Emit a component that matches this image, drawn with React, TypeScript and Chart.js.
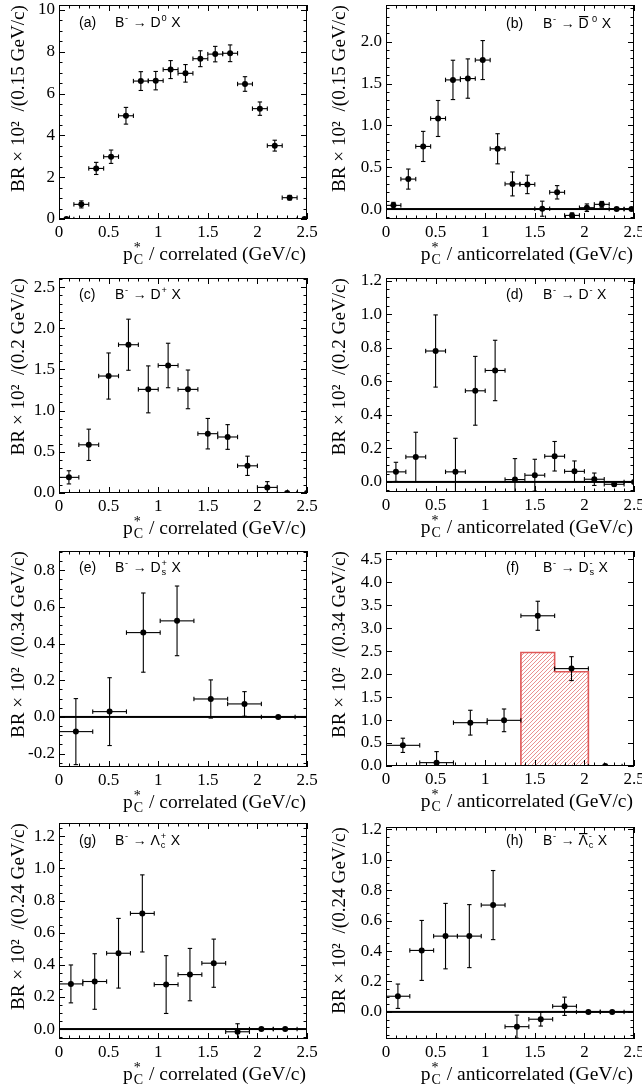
import { useEffect, useRef } from "react";
import { Chart, registerables } from "chart.js";
Chart.register(...registerables);

// ---------------- data ----------------
const xTickLabels = ["0", "0.5", "1", "1.5", "2", "2.5"];

// (a) B- -> D0 X, correlated, 0.15 GeV/c bins
const aX = [0.075, 0.225, 0.375, 0.525, 0.675, 0.825, 0.975, 1.125, 1.275, 1.425, 1.575, 1.725, 1.875, 2.025, 2.175, 2.325, 2.475];
const aY = [0, 0.70, 2.42, 2.98, 4.94, 6.60, 6.62, 7.15, 6.97, 7.67, 7.89, 7.93, 6.46, 5.28, 3.51, 1.02, 0];
const aErr = [0.03, 0.17, 0.29, 0.32, 0.40, 0.45, 0.44, 0.43, 0.42, 0.38, 0.37, 0.40, 0.35, 0.32, 0.26, 0.11, 0];

// (b) B- -> anti-D0 X, anticorrelated
const bX = [0.075, 0.225, 0.375, 0.525, 0.675, 0.825, 0.975, 1.125, 1.275, 1.425, 1.575, 1.725, 1.875, 2.025, 2.175, 2.325, 2.475];
const bY = [0.044, 0.358, 0.748, 1.082, 1.543, 1.559, 1.78, 0.72, 0.30, 0.294, 0.004, 0.20, -0.076, 0.016, 0.056, 0, 0];
const bErr = [0.036, 0.12, 0.18, 0.215, 0.235, 0.235, 0.233, 0.18, 0.143, 0.11, 0.09, 0.08, 0.03, 0.045, 0.035, 0, 0];

// (c) B- -> D+ X, correlated, 0.2 GeV/c bins
const cX = [0.1, 0.3, 0.5, 0.7, 0.9, 1.1, 1.3, 1.5, 1.7, 1.9, 2.1, 2.3, 2.5];
const cY = [0.19, 0.585, 1.42, 1.80, 1.258, 1.548, 1.258, 0.72, 0.68, 0.33, 0.068, 0, 0];
const cErr = [0.08, 0.19, 0.28, 0.31, 0.285, 0.27, 0.235, 0.185, 0.15, 0.117, 0.07, 0, 0];

// (d) B- -> D- X, anticorrelated
const dX = [0.1, 0.3, 0.5, 0.7, 0.9, 1.1, 1.3, 1.5, 1.7, 1.9, 2.1, 2.3, 2.5];
const dY = [0.06, 0.149, 0.78, 0.06, 0.543, 0.664, 0.014, 0.04, 0.153, 0.063, 0.016, -0.014, 0];
const dErr = [0.057, 0.147, 0.215, 0.2, 0.205, 0.18, 0.125, 0.095, 0.088, 0.062, 0.037, 0.01, 0];

// (e) B- -> Ds+ X, correlated, 0.34 GeV/c bins
const eX = [0.17, 0.51, 0.85, 1.19, 1.53, 1.87, 2.21];
const eY = [-0.08, 0.029, 0.46, 0.524, 0.098, 0.071, 0];
const eErr = [0.18, 0.185, 0.216, 0.19, 0.104, 0.067, 0];

// (f) B- -> Ds- X, anticorrelated
const fX = [0.17, 0.51, 0.85, 1.19, 1.53, 1.87, 2.21];
const fY = [0.45, 0.073, 0.943, 0.994, 3.27, 2.12, 0];
const fErr = [0.155, 0.24, 0.27, 0.247, 0.316, 0.26, 0];
const fHistEdges = [0, 0.34, 0.68, 1.02, 1.36, 1.70, 2.04];
const fHistValues = [0, 0, 0, 0, 2.47, 2.05];

// (g) B- -> Lambda_c+ X, correlated, 0.24 GeV/c bins
const gX = [0.12, 0.36, 0.60, 0.84, 1.08, 1.32, 1.56, 1.80, 2.04, 2.28];
const gY = [0.281, 0.296, 0.472, 0.72, 0.277, 0.339, 0.41, -0.017, 0, 0];
const gErr = [0.118, 0.173, 0.217, 0.24, 0.18, 0.163, 0.15, 0.05, 0, 0];

// (h) B- -> anti-Lambda_c- X, anticorrelated
const hX = [0.12, 0.36, 0.60, 0.84, 1.08, 1.32, 1.56, 1.80, 2.04, 2.28];
const hY = [0.103, 0.404, 0.498, 0.498, 0.702, -0.097, -0.048, 0.037, 0, 0];
const hErr = [0.08, 0.197, 0.215, 0.207, 0.227, 0.076, 0.045, 0.06, 0, 0];

// ---------------- layout / styling ----------------
type Seg = { t: string; sup?: string; sub?: string; bar?: boolean };
interface PanelCfg {
  x: number; y: number; w: number; h: number;
  area: { left: number; top: number; right: number; bottom: number };
  xs: number[]; ys: number[]; yerr: number[]; xhalf: number;
  ymin: number; ymax: number; ymajor: number; yminor: number; ydec: number;
  ytitle: string; xtitle: string;
  tag: string; formula: Seg[]; tagX: number; formulaX: number; labelY: number;
  hist?: { edges: number[]; values: number[] };
}

const SERIF = "Liberation Serif";
const SANS = "Liberation Sans";
const corr = "correlated (GeV/c)";
const anti = "anticorrelated (GeV/c)";
const L = { x: 0, tagX: 79, formulaX: 115 };
const R = { x: 321, tagX: 185, formulaX: 222 };
const Bm: Seg = { t: "B", sup: "-" };
const AR = " \u2192 ";

const panels: PanelCfg[] = [
  { x: L.x, y: 0, w: 321, h: 272, area: { left: 59, top: 5, right: 307, bottom: 219 },
    xs: aX, ys: aY, yerr: aErr, xhalf: 0.075, ymin: 0, ymax: 10.24, ymajor: 2, yminor: 0.5, ydec: 0,
    ytitle: "BR × 10²  /(0.15 GeV/c)", xtitle: corr, tag: "(a)", tagX: L.tagX, formulaX: L.formulaX, labelY: 27,
    formula: [Bm, { t: AR + "D", sup: "0" }, { t: " X" }] },
  { x: R.x, y: 0, w: 321, h: 272, area: { left: 65, top: 5, right: 313, bottom: 219 },
    xs: bX, ys: bY, yerr: bErr, xhalf: 0.075, ymin: -0.119, ymax: 2.438, ymajor: 0.5, yminor: 0.1, ydec: 1,
    ytitle: "BR × 10²  /(0.15 GeV/c)", xtitle: anti, tag: "(b)", tagX: R.tagX, formulaX: R.formulaX, labelY: 28,
    formula: [Bm, { t: AR }, { t: "D", bar: true, sup: " 0" }, { t: " X" }] },
  { x: L.x, y: 272, w: 321, h: 272, area: { left: 59, top: 6, right: 307, bottom: 221 },
    xs: cX, ys: cY, yerr: cErr, xhalf: 0.1, ymin: 0, ymax: 2.61, ymajor: 0.5, yminor: 0.1, ydec: 1,
    ytitle: "BR × 10²  /(0.2 GeV/c)", xtitle: corr, tag: "(c)", tagX: L.tagX, formulaX: L.formulaX, labelY: 27,
    formula: [Bm, { t: AR + "D", sup: "+" }, { t: " X" }] },
  { x: R.x, y: 272, w: 321, h: 272, area: { left: 65, top: 6, right: 313, bottom: 220 },
    xs: dX, ys: dY, yerr: dErr, xhalf: 0.1, ymin: -0.06, ymax: 1.215, ymajor: 0.2, yminor: 0.05, ydec: 1,
    ytitle: "BR × 10²  /(0.2 GeV/c)", xtitle: anti, tag: "(d)", tagX: R.tagX, formulaX: R.formulaX, labelY: 27,
    formula: [Bm, { t: AR + "D", sup: "-" }, { t: " X" }] },
  { x: L.x, y: 544, w: 321, h: 272, area: { left: 59, top: 7, right: 307, bottom: 223 },
    xs: eX, ys: eY, yerr: eErr, xhalf: 0.17, ymin: -0.273, ymax: 0.905, ymajor: 0.2, yminor: 0.05, ydec: 1,
    ytitle: "BR × 10²  /(0.34 GeV/c)", xtitle: corr, tag: "(e)", tagX: L.tagX, formulaX: L.formulaX, labelY: 28,
    formula: [Bm, { t: AR + "D", sup: "+", sub: "s" }, { t: " X" }] },
  { x: R.x, y: 544, w: 321, h: 272, area: { left: 65, top: 7, right: 313, bottom: 222 },
    xs: fX, ys: fY, yerr: fErr, xhalf: 0.17, ymin: 0, ymax: 4.68, ymajor: 0.5, yminor: 0.5, ydec: 1,
    ytitle: "BR × 10²  /(0.34 GeV/c)", xtitle: anti, tag: "(f)", tagX: R.tagX, formulaX: R.formulaX, labelY: 28,
    formula: [Bm, { t: AR + "D", sup: "-", sub: "s" }, { t: " X" }],
    hist: { edges: fHistEdges, values: fHistValues } },
  { x: L.x, y: 816, w: 321, h: 273, area: { left: 59, top: 7, right: 307, bottom: 223 },
    xs: gX, ys: gY, yerr: gErr, xhalf: 0.12, ymin: -0.062, ymax: 1.283, ymajor: 0.2, yminor: 0.05, ydec: 1,
    ytitle: "BR × 10²  /(0.24 GeV/c)", xtitle: corr, tag: "(g)", tagX: L.tagX, formulaX: L.formulaX, labelY: 29,
    formula: [Bm, { t: AR + "Λ", sup: "+", sub: "c" }, { t: " X" }] },
  { x: R.x, y: 816, w: 321, h: 273, area: { left: 65, top: 11, right: 313, bottom: 223 },
    xs: hX, ys: hY, yerr: hErr, xhalf: 0.12, ymin: -0.178, ymax: 1.215, ymajor: 0.2, yminor: 0.05, ydec: 1,
    ytitle: "BR × 10²  /(0.24 GeV/c)", xtitle: anti, tag: "(h)", tagX: R.tagX, formulaX: R.formulaX, labelY: 29,
    formula: [Bm, { t: AR }, { t: "Λ", bar: true, sup: "-", sub: "c" }, { t: " X" }] },
];

// ---------------- helpers ----------------
function drawRich(ctx: CanvasRenderingContext2D, segs: Seg[], x: number, y: number, family: string,
  size: number, ratio: number, align: "left" | "right", supUp: number, subDown: number) {
  const sm = size * ratio;
  const F = (s: number) => `${s}px "${family}"`;
  const widths = segs.map((s) => {
    ctx.font = F(size);
    const mw = ctx.measureText(s.t).width;
    ctx.font = F(sm);
    const sw = Math.max(s.sup ? ctx.measureText(s.sup).width : 0, s.sub ? ctx.measureText(s.sub).width : 0);
    return { mw, sw: sw ? sw + size * 0.1 : 0 };
  });
  const total = widths.reduce((a, b) => a + b.mw + b.sw, 0);
  let cx = align === "right" ? x - total : x;
  ctx.textAlign = "left";
  ctx.textBaseline = "alphabetic";
  ctx.fillStyle = "#000";
  segs.forEach((s, i) => {
    ctx.font = F(size);
    ctx.fillText(s.t, cx, y);
    if (s.bar) {
      ctx.fillRect(cx + 0.5, Math.round(y - size * 0.87), widths[i].mw - 1, 1.2);
    }
    cx += widths[i].mw;
    if (s.sup || s.sub) {
      ctx.font = F(sm);
      if (s.sup) ctx.fillText(s.sup, cx + size * 0.05, y - size * supUp);
      if (s.sub) ctx.fillText(s.sub, cx + size * 0.05, y + size * subDown);
      cx += widths[i].sw;
    }
  });
}

function makeHatch(ctx: CanvasRenderingContext2D) {
  const c = document.createElement("canvas");
  const s = 4;
  c.width = s; c.height = s;
  const g = c.getContext("2d")!;
  g.strokeStyle = "rgb(228,118,118)";
  g.lineWidth = 0.8;
  g.beginPath();
  g.moveTo(0, s); g.lineTo(s, 0);
  g.moveTo(-1, 1); g.lineTo(1, -1);
  g.moveTo(s - 1, s + 1); g.lineTo(s + 1, s - 1);
  g.stroke();
  return ctx.createPattern(c, "repeat");
}

function tickList(min: number, max: number, minor: number, major: number) {
  const out: { v: number; major: boolean }[] = [];
  const k0 = Math.ceil(min / minor - 1e-9), k1 = Math.floor(max / minor + 1e-9);
  for (let k = k0; k <= k1; k++) {
    const v = k * minor;
    out.push({ v, major: Math.abs(v / major - Math.round(v / major)) < 1e-6 });
  }
  return out;
}

function Panel({ cfg }: { cfg: PanelCfg }) {
  const ref = useRef<HTMLCanvasElement>(null);
  useEffect(() => {
    const canvas = ref.current!;
    const ctx = canvas.getContext("2d")!;
    const { area, w, h } = cfg;

    const decor = {
      id: "decor",
      afterDatasetsDraw(chart: any) {
        const c: CanvasRenderingContext2D = chart.ctx;
        const xs = chart.scales.x, ys = chart.scales.y;
        const ca = chart.chartArea;
        c.save();
        c.beginPath();
        c.rect(ca.left, ca.top, ca.right - ca.left, ca.bottom - ca.top);
        c.clip();
        c.fillStyle = "#000";
        // zero line
        const y0 = ys.getPixelForValue(0);
        c.fillRect(ca.left, y0 - 1, ca.right - ca.left, 2);
        // error bars
        const lw = 1.1;
        const cap = 2.2;
        cfg.xs.forEach((xv, i) => {
          const px = xs.getPixelForValue(xv);
          const py = ys.getPixelForValue(cfg.ys[i]);
          const e = cfg.yerr[i];
          if (e > 0) {
            const yt = ys.getPixelForValue(cfg.ys[i] + e);
            const yb = ys.getPixelForValue(cfg.ys[i] - e);
            c.fillRect(px - lw / 2, yt, lw, yb - yt);
            c.fillRect(px - cap, yt - lw / 2, 2 * cap, lw);
            c.fillRect(px - cap, yb - lw / 2, 2 * cap, lw);
          }
          const xl = xs.getPixelForValue(xv - cfg.xhalf);
          const xr = xs.getPixelForValue(xv + cfg.xhalf);
          c.fillRect(xl, py - lw / 2, xr - xl, lw);
          c.fillRect(xl - lw / 2, py - cap, lw, 2 * cap);
          c.fillRect(xr - lw / 2, py - cap, lw, 2 * cap);
        });
        c.restore();
      },
      afterDraw(chart: any) {
        const c: CanvasRenderingContext2D = chart.ctx;
        const xs = chart.scales.x, ys = chart.scales.y;
        const ca = chart.chartArea;
        const L0 = Math.round(ca.left), R0 = Math.round(ca.right);
        const T0 = Math.round(ca.top), B0 = Math.round(ca.bottom);
        c.save();
        c.fillStyle = "#000";
        // frame
        c.fillRect(L0, T0, R0 - L0, 1);
        c.fillRect(L0, B0 - 1, R0 - L0, 1);
        c.fillRect(L0, T0, 1, B0 - T0);
        c.fillRect(R0 - 1, T0, 1, B0 - T0);
        // ticks
        const MJ = 6, MN = 3.5;
        tickList(0, 2.5, 0.1, 0.5).forEach((t) => {
          const px = Math.round(xs.getPixelForValue(t.v));
          const l = t.major ? MJ : MN;
          c.fillRect(px, B0 - l, 1, l);
          c.fillRect(px, T0, 1, l);
        });
        tickList(cfg.ymin, cfg.ymax, cfg.yminor, cfg.ymajor).forEach((t) => {
          const py = Math.round(ys.getPixelForValue(t.v));
          const l = t.major ? MJ : MN;
          c.fillRect(L0, py, l, 1);
          c.fillRect(R0 - l, py, l, 1);
        });
        // x title
        drawRich(c, [{ t: "p", sup: "*", sub: "C" }, { t: " / " + cfg.xtitle }],
          ca.right - 1, ca.bottom + 41, SERIF, 19.5, 0.72, "right", 0.42, 0.22);
        // panel label
        c.font = `14px "${SANS}"`;
        c.textAlign = "left";
        c.textBaseline = "alphabetic";
        c.fillStyle = "#000";
        c.fillText(cfg.tag, cfg.tagX, cfg.labelY);
        drawRich(c, cfg.formula, cfg.formulaX, cfg.labelY, SANS, 14, 0.66, "left", 0.45, 0.22);
        c.restore();
      },
    };

    const datasets: any[] = [
      {
        type: "scatter",
        data: cfg.xs.map((xv, i) => ({ x: xv, y: cfg.ys[i] })),
        pointRadius: 3,
        pointHoverRadius: 3,
        pointBackgroundColor: "#000",
        pointBorderColor: "#000",
        pointBorderWidth: 0,
        showLine: false,
        order: 1,
      },
    ];
    if (cfg.hist) {
      const hd = cfg.hist.values.map((v, i) => ({ x: cfg.hist!.edges[i], y: v }));
      hd.push({ x: cfg.hist.edges[cfg.hist.edges.length - 1], y: 0 });
      datasets.push({
        type: "line",
        data: hd,
        stepped: "before",
        fill: "origin",
        backgroundColor: makeHatch(ctx),
        borderColor: "rgb(222,88,88)",
        borderWidth: 1.6,
        pointRadius: 0,
        order: 2,
      });
    }

    const tickFont = { family: SERIF, size: 17 };
    const chart = new Chart(canvas, {
      type: "scatter",
      data: { datasets },
      options: {
        animation: false,
        responsive: false,
        maintainAspectRatio: false,
        devicePixelRatio: 1,
        events: [],
        layout: { padding: { left: 0, top: area.top, right: w - area.right, bottom: 0 } },
        plugins: { legend: { display: false }, tooltip: { enabled: false } },
        scales: {
          x: {
            type: "linear",
            min: 0,
            max: 2.5,
            grid: { display: false, drawTicks: false, tickLength: 0 },
            border: { display: false },
            ticks: {
              stepSize: 0.5,
              autoSkip: false,
              maxRotation: 0,
              includeBounds: false,
              padding: 3,
              color: "#000",
              font: tickFont,
              callback: (v: any) => xTickLabels[Math.round(Number(v) / 0.5)] ?? "",
            },
            afterFit: (s: any) => {
              s.height = h - area.bottom;
              s.paddingLeft = 0;
              s.paddingRight = 0;
            },
          },
          y: {
            type: "linear",
            min: cfg.ymin,
            max: cfg.ymax,
            grid: { display: false, drawTicks: false, tickLength: 0 },
            border: { display: false },
            ticks: {
              stepSize: cfg.ymajor,
              includeBounds: false,
              padding: 4,
              color: "#000",
              font: tickFont,
              callback: (v: any) => Number(v).toFixed(cfg.ydec),
            },
            title: {
              display: true,
              text: cfg.ytitle,
              align: "end",
              color: "#000",
              font: { family: SERIF, size: 19.2 },
              padding: { top: 7.5, bottom: 0 },
            },
            afterFit: (s: any) => {
              s.width = area.left;
              s.paddingTop = 0;
              s.paddingBottom = 0;
            },
          },
        },
      } as any,
      plugins: [decor],
    });
    return () => chart.destroy();
  }, [cfg]);

  return (
    <canvas
      ref={ref}
      width={cfg.w}
      height={cfg.h}
      style={{ position: "absolute", left: cfg.x, top: cfg.y, width: cfg.w, height: cfg.h }}
    />
  );
}

export default function App() {
  return (
    <div style={{ position: "absolute", left: 0, top: 0, width: 642, height: 1089, background: "#fff" }}>
      {panels.map((p, i) => (
        <Panel key={i} cfg={p} />
      ))}
    </div>
  );
}
